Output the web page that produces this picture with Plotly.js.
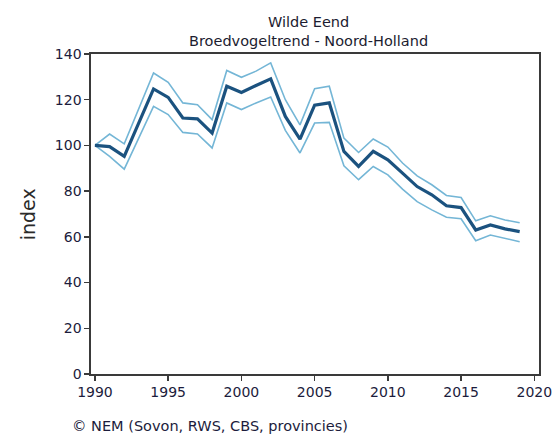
<!DOCTYPE html>
<html>
<head>
<meta charset="utf-8">
<script src="https://cdn.plot.ly/plotly-3.0.1.min.js"></script>
<style>html,body{margin:0;padding:0;background:#fff;}#chart{width:553px;height:435px;}</style>
</head>
<body>
<div id="chart"></div>
<script>
var years = [1990,1991,1992,1993,1994,1995,1996,1997,1998,1999,2000,2001,2002,2003,2004,2005,2006,2007,2008,2009,2010,2011,2012,2013,2014,2015,2016,2017,2018,2019];
var indexMean = [100,99.5,95.2,110,124.7,121,112,111.6,105.4,125.9,123.2,126.2,129.1,112.7,102.8,117.6,118.6,97.4,90.8,97.4,93.7,87.9,82,78.4,73.6,72.8,63,65.2,63.5,62.3];
var indexUpper = [100,105,100.7,116,131.7,127.6,118.6,117.8,111.3,132.8,129.8,132.5,136.1,120,109,124.8,125.9,103.2,96.9,102.8,99.3,92.3,86.7,82.8,78.1,77.2,67,69.2,67.4,66.2];
var indexLower = [100,95.2,89.6,103.2,117.1,113.5,105.7,105,98.9,118.6,115.7,118.6,121.2,106.6,96.7,109.8,110.1,91.1,85,90.8,87.1,80.9,75.4,71.8,68.6,67.9,58.3,60.8,59.4,57.9];
var xTicks = [1990,1995,2000,2005,2010,2015,2020];
var yTicks = [0,20,40,60,80,100,120,140];

var bandColor = '#74b6d6';
var meanColor = '#1b527f';
var axisColor = '#3a3a3a';
var textColor = '#1c1c3c';

var traces = [
  {x: years, y: indexUpper, mode: 'lines', line: {color: bandColor, width: 1.6}, hoverinfo: 'skip'},
  {x: years, y: indexLower, mode: 'lines', line: {color: bandColor, width: 1.6}, hoverinfo: 'skip'},
  {x: years, y: indexMean, mode: 'lines', line: {color: meanColor, width: 3.2}}
];

var layout = {
  width: 553, height: 435,
  margin: {l: 90.7, r: 14.3, t: 54.3, b: 61.3},
  paper_bgcolor: '#fff', plot_bgcolor: '#fff',
  showlegend: false,
  font: {family: 'DejaVu Sans, sans-serif', color: textColor},
  title: {
    text: 'Wilde Eend<br>Broedvogeltrend - Noord-Holland',
    x: 0.558, xanchor: 'center', xref: 'container',
    y: 0.938, yanchor: 'middle', yref: 'container',
    font: {family: 'DejaVu Sans, sans-serif', size: 14.5, color: '#1c1c30'}
  },
  xaxis: {
    range: [1989.73, 2020.32],
    tickvals: xTicks, ticktext: xTicks.map(String),
    ticks: 'outside', ticklen: 5, tickwidth: 1.5, tickcolor: axisColor,
    showline: true, linecolor: axisColor, linewidth: 1.6, mirror: true,
    showgrid: false, zeroline: false,
    tickfont: {size: 14, color: textColor}
  },
  yaxis: {
    range: [0, 140],
    tickvals: yTicks, ticktext: yTicks.map(String),
    ticks: 'outside', ticklen: 5, tickwidth: 1.5, tickcolor: axisColor,
    showline: true, linecolor: axisColor, linewidth: 1.6, mirror: true,
    showgrid: false, zeroline: false,
    tickfont: {size: 14, color: textColor}
  },
  annotations: [
    {text: 'index', textangle: -90, xref: 'paper', yref: 'paper', x: -0.14, y: 0.5,
     xanchor: 'center', yanchor: 'middle', showarrow: false,
     font: {size: 19, color: '#2a2a2a'}},
    {text: '© NEM (Sovon, RWS, CBS, provincies)', xref: 'paper', yref: 'paper',
     x: -0.046, y: -0.162, xanchor: 'left', yanchor: 'middle', showarrow: false,
     font: {size: 14.5, color: textColor}}
  ]
};

Plotly.newPlot('chart', traces, layout, {displayModeBar: false, staticPlot: true});
</script>
</body>
</html>
